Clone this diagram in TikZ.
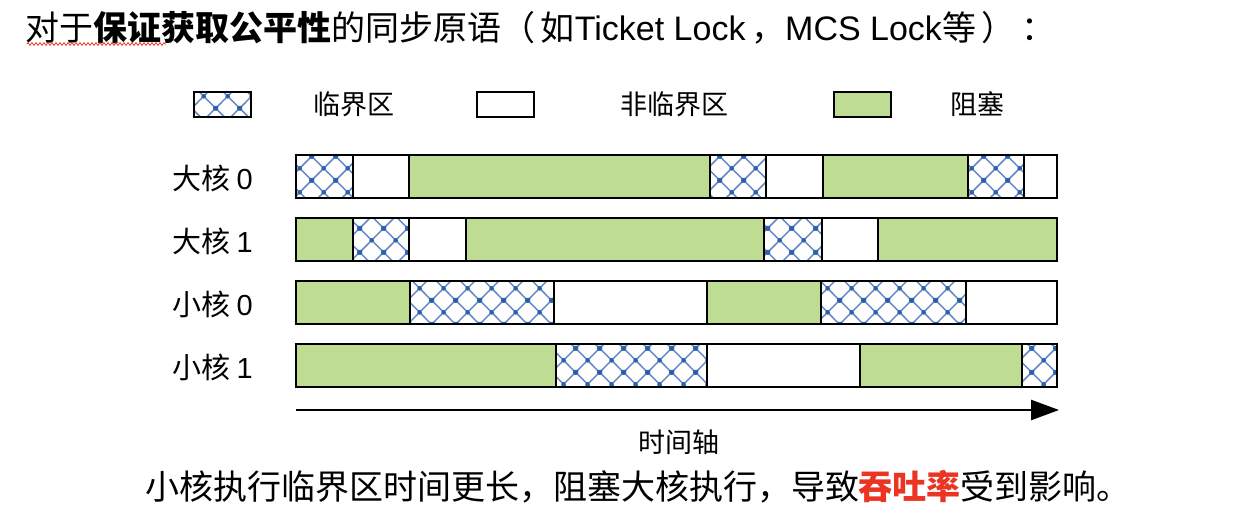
\documentclass[tikz,border=0pt]{standalone}
\usepackage{fontspec}
\setmainfont{Noto Sans CJK SC}
\newfontfamily\latin{Liberation Sans}
\usepackage{tikz}
\usetikzlibrary{arrows.meta,patterns.meta,decorations.pathmorphing}
\definecolor{critblue}{RGB}{47,96,172}
\definecolor{blockgreen}{RGB}{190,221,147}
\definecolor{alertred}{RGB}{236,52,34}
\tikzdeclarepattern{
  name=critnet,
  type=colored,
  bottom left={(0pt,0pt)},
  top right={(24pt,24pt)},
  tile size={(24pt,24pt)},
  code={
    \draw[critblue!75,line width=1.5pt] (0pt,0pt) -- (24pt,24pt) (0pt,24pt) -- (24pt,0pt);
    \fill[critblue] (12pt,12pt) circle (2.4pt);
    \fill[critblue] (0pt,0pt) circle (2.4pt) (24pt,0pt) circle (2.4pt)
      (0pt,24pt) circle (2.4pt) (24pt,24pt) circle (2.4pt);
  }
}

\begin{document}
\begin{tikzpicture}[x=1pt,y=-1pt]
\tikzstyle{crit}=[draw=black,line width=2.2pt,pattern=critnet]
\tikzstyle{free}=[draw=black,line width=2.2pt,fill=white]
\tikzstyle{blocked}=[draw=black,line width=2.2pt,fill=blockgreen]
\tikzstyle{core}=[anchor=west,inner sep=0pt,font=\fontsize{29}{34}\selectfont]
\tikzstyle{legendtext}=[inner sep=0pt,font=\fontsize{27}{32}\selectfont]
\useasboundingbox (0,0) rectangle (1248,516);

\node[anchor=west,inner sep=0pt,font=\fontsize{34}{40}\selectfont] (title) at (25,28)
  {对于\textbf{保证获取公平性}的同步原语（\,如{\latin Ticket Lock\,}，{\latin MCS Lock}等\,）\,：};
\draw[alertred,line width=0.8pt,decorate,decoration={zigzag,segment length=4pt,amplitude=1.4pt}] (27,44) -- (166,44);

\draw[crit] (194,92) rectangle (251,117);
\node[legendtext] (lcrit) at (354,104) {临界区};
\draw[free] (477,92) rectangle (534,117);
\node[legendtext] (lfree) at (674,104) {非临界区};
\draw[blocked] (834,92) rectangle (891,117);
\node[legendtext] (lblock) at (977,104) {阻塞};

\node[core] (big0) at (172,178) {大核 {\latin 0}};
\node[core] (big1) at (172,241) {大核 {\latin 1}};
\node[core] (little0) at (172,304) {小核 {\latin 0}};
\node[core] (little1) at (172,367) {小核 {\latin 1}};

\draw[crit] (296,155) rectangle (353,198);
\draw[free] (353,155) rectangle (409,198);
\draw[blocked] (409,155) rectangle (710,198);
\draw[crit] (710,155) rectangle (766,198);
\draw[free] (766,155) rectangle (823,198);
\draw[blocked] (823,155) rectangle (968,198);
\draw[crit] (968,155) rectangle (1024,198);
\draw[free] (1024,155) rectangle (1057,198);

\draw[blocked] (296,218) rectangle (353,261);
\draw[crit] (353,218) rectangle (409,261);
\draw[free] (409,218) rectangle (466,261);
\draw[blocked] (466,218) rectangle (764,261);
\draw[crit] (764,218) rectangle (822,261);
\draw[free] (822,218) rectangle (878,261);
\draw[blocked] (878,218) rectangle (1057,261);

\draw[blocked] (296,281) rectangle (410,324);
\draw[crit] (410,281) rectangle (554,324);
\draw[free] (554,281) rectangle (707,324);
\draw[blocked] (707,281) rectangle (821,324);
\draw[crit] (821,281) rectangle (966,324);
\draw[free] (966,281) rectangle (1057,324);

\draw[blocked] (296,344) rectangle (556,387);
\draw[crit] (556,344) rectangle (707,387);
\draw[free] (707,344) rectangle (860,387);
\draw[blocked] (860,344) rectangle (1022,387);
\draw[crit] (1022,344) rectangle (1057,387);

\coordinate (t0) at (296,410);
\coordinate (t1) at (1059,410);
\draw[line width=2.5pt,-{Triangle[length=28pt,width=20pt]}] (t0) -- (t1);
\node[inner sep=0pt,font=\fontsize{27}{32}\selectfont] (axis) at (679,442) {时间轴};

\node[inner sep=0pt,font=\fontsize{34}{40}\selectfont] (note) at (638,487)
  {小核执行临界区时间更长，阻塞大核执行，导致\textcolor{alertred}{\textbf{吞吐率}}受到影响。};
\end{tikzpicture}
\end{document}
